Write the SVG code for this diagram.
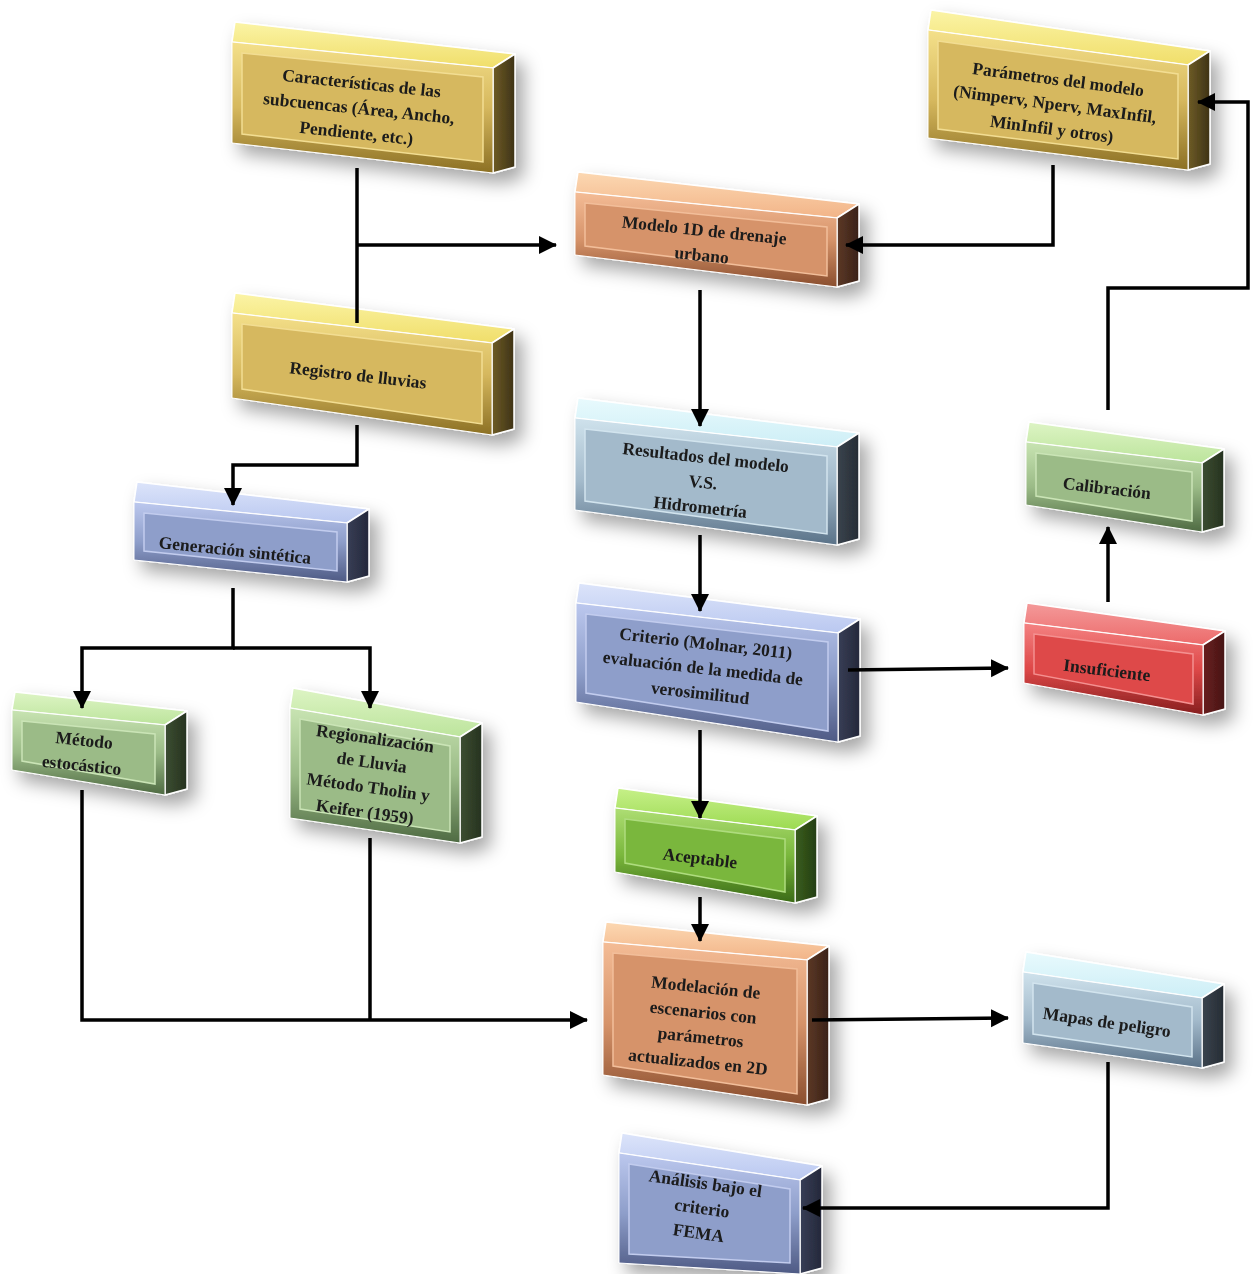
<svg xmlns="http://www.w3.org/2000/svg" width="1253" height="1274" viewBox="0 0 1253 1274">
<style>
.t{font-family:"Liberation Serif","DejaVu Serif",serif;font-weight:bold;font-size:17.5px;fill:#1a1a1a;text-anchor:middle}
.top,.side{stroke:#fff;stroke-width:1.5;stroke-linejoin:round}
.front{stroke:#fff;stroke-width:1}
.in{stroke-width:1.5}
.y .top{fill:url(#ty)} .y .front{fill:url(#fy)} .y .in{fill:#D6B85E;stroke:#F2DD92} .y .side{fill:url(#sy)}
.o .top{fill:url(#to)} .o .front{fill:url(#fo)} .o .in{fill:#D6936A;stroke:#F2BE9A} .o .side{fill:url(#so)}
.c .top{fill:url(#tc)} .c .front{fill:url(#fc)} .c .in{fill:#A3BACB;stroke:#D2E4EE} .c .side{fill:url(#sc)}
.b .top{fill:url(#tb)} .b .front{fill:url(#fb)} .b .in{fill:#8E9ECA;stroke:#C2CCEE} .b .side{fill:url(#sb)}
.g .top{fill:url(#tg)} .g .front{fill:url(#fg)} .g .in{fill:#9BBB87;stroke:#CAE4B6} .g .side{fill:url(#sg)}
.a .top{fill:url(#ta)} .a .front{fill:url(#fa)} .a .in{fill:#7AB73C;stroke:#AEDC7E} .a .side{fill:url(#sa)}
.r .top{fill:url(#tr)} .r .front{fill:url(#fr)} .r .in{fill:#DE4848;stroke:#F49090} .r .side{fill:url(#sr)}
.node{filter:url(#sh)}
.conn path{fill:none;stroke:#000;stroke-width:3.5}
.conn path.ar{marker-end:url(#arr)}
</style>
<defs>
<filter id="sh" x="-20%" y="-20%" width="150%" height="160%">
<feDropShadow dx="8" dy="10" stdDeviation="9" flood-color="#000" flood-opacity="0.35"/>
</filter>
<marker id="arr" markerUnits="userSpaceOnUse" markerWidth="20" markerHeight="20" refX="17" refY="9" orient="auto">
<path d="M0,0 L18,9 L0,18 z" fill="#000"/>
</marker>
<linearGradient id="ty" x1="0" y1="0" x2="0" y2="1"><stop offset="0" stop-color="#FBF4A6"/><stop offset="1" stop-color="#F0DE6A"/></linearGradient>
<linearGradient id="fy" x1="0" y1="0" x2="0" y2="1"><stop offset="0" stop-color="#F4E08A"/><stop offset="0.5" stop-color="#D6B85E"/><stop offset="1" stop-color="#8C7024"/></linearGradient>
<linearGradient id="sy" x1="0" y1="0" x2="1" y2="0"><stop offset="0" stop-color="#6E5C26"/><stop offset="1" stop-color="#3E3216"/></linearGradient>
<linearGradient id="to" x1="0" y1="0" x2="0" y2="1"><stop offset="0" stop-color="#FCD8B2"/><stop offset="1" stop-color="#F2B488"/></linearGradient>
<linearGradient id="fo" x1="0" y1="0" x2="0" y2="1"><stop offset="0" stop-color="#F4BC96"/><stop offset="0.5" stop-color="#D6936A"/><stop offset="1" stop-color="#8A4E2E"/></linearGradient>
<linearGradient id="so" x1="0" y1="0" x2="1" y2="0"><stop offset="0" stop-color="#5C3826"/><stop offset="1" stop-color="#3A2218"/></linearGradient>
<linearGradient id="tc" x1="0" y1="0" x2="0" y2="1"><stop offset="0" stop-color="#E8FAFD"/><stop offset="1" stop-color="#CDEEF6"/></linearGradient>
<linearGradient id="fc" x1="0" y1="0" x2="0" y2="1"><stop offset="0" stop-color="#CFE2EC"/><stop offset="0.5" stop-color="#A3BACB"/><stop offset="1" stop-color="#5A7288"/></linearGradient>
<linearGradient id="sc" x1="0" y1="0" x2="1" y2="0"><stop offset="0" stop-color="#3A444E"/><stop offset="1" stop-color="#262C34"/></linearGradient>
<linearGradient id="tb" x1="0" y1="0" x2="0" y2="1"><stop offset="0" stop-color="#DCE4FA"/><stop offset="1" stop-color="#BAC8F0"/></linearGradient>
<linearGradient id="fb" x1="0" y1="0" x2="0" y2="1"><stop offset="0" stop-color="#BCC8EE"/><stop offset="0.5" stop-color="#8E9ECA"/><stop offset="1" stop-color="#4E5A84"/></linearGradient>
<linearGradient id="sb" x1="0" y1="0" x2="1" y2="0"><stop offset="0" stop-color="#383E56"/><stop offset="1" stop-color="#24283A"/></linearGradient>
<linearGradient id="tg" x1="0" y1="0" x2="0" y2="1"><stop offset="0" stop-color="#DDF4C4"/><stop offset="1" stop-color="#BCE49C"/></linearGradient>
<linearGradient id="fg" x1="0" y1="0" x2="0" y2="1"><stop offset="0" stop-color="#C8E4B2"/><stop offset="0.5" stop-color="#9BBB87"/><stop offset="1" stop-color="#4E6A42"/></linearGradient>
<linearGradient id="sg" x1="0" y1="0" x2="1" y2="0"><stop offset="0" stop-color="#3C4E32"/><stop offset="1" stop-color="#26321F"/></linearGradient>
<linearGradient id="ta" x1="0" y1="0" x2="0" y2="1"><stop offset="0" stop-color="#C6F088"/><stop offset="1" stop-color="#9CDA52"/></linearGradient>
<linearGradient id="fa" x1="0" y1="0" x2="0" y2="1"><stop offset="0" stop-color="#AEDE74"/><stop offset="0.5" stop-color="#7AB73C"/><stop offset="1" stop-color="#3A6A16"/></linearGradient>
<linearGradient id="sa" x1="0" y1="0" x2="1" y2="0"><stop offset="0" stop-color="#3A5E1E"/><stop offset="1" stop-color="#243E12"/></linearGradient>
<linearGradient id="tr" x1="0" y1="0" x2="0" y2="1"><stop offset="0" stop-color="#F49A9A"/><stop offset="1" stop-color="#EC6A6A"/></linearGradient>
<linearGradient id="fr" x1="0" y1="0" x2="0" y2="1"><stop offset="0" stop-color="#F48282"/><stop offset="0.5" stop-color="#DE4848"/><stop offset="1" stop-color="#861E1E"/></linearGradient>
<linearGradient id="sr" x1="0" y1="0" x2="1" y2="0"><stop offset="0" stop-color="#6A2020"/><stop offset="1" stop-color="#461414"/></linearGradient>
</defs>
<rect width="1253" height="1274" fill="#fff"/>

<g id="n-caracteristicas" class="node y">
<polygon class="top" points="235,22 515,54 493,68 232,42"/>
<polygon class="side" points="493,68 515,54 515,167 493,173"/>
<polygon class="front" points="232,42 493,68 493,173 232,143"/>
<polygon class="in" points="242,53 483,77 483,162 242,134"/>
<g transform="translate(359,108) rotate(6)"><text class="t" y="-19">Características de las</text><text class="t" y="6">subcuencas (Área, Ancho,</text><text class="t" y="31">Pendiente, etc.)</text></g>
</g>

<g id="n-modelo1d" class="node o">
<polygon class="top" points="578,172 859,204 837,218 575,192"/>
<polygon class="side" points="837,218 859,204 859,281 837,287"/>
<polygon class="front" points="575,192 837,218 837,287 575,255"/>
<polygon class="in" points="585,203 827,227 827,276 585,246"/>
<g transform="translate(703,242) rotate(6)"><text class="t" y="-6">Modelo 1D de drenaje</text><text class="t" y="19">urbano</text></g>
</g>

<g id="n-registro" class="node y">
<polygon class="top" points="235,293 514,329 492,343 232,313"/>
<polygon class="side" points="492,343 514,329 514,429 492,435"/>
<polygon class="front" points="232,313 492,343 492,435 232,398"/>
<polygon class="in" points="242,324 482,352 482,424 242,389"/>
<g transform="translate(358,375) rotate(6.5)"><text class="t" y="6">Registro de lluvias</text></g>
</g>

<g id="n-generacion" class="node b">
<polygon class="top" points="137,482 369,509 347,523 134,502"/>
<polygon class="side" points="347,523 369,509 369,576 347,582"/>
<polygon class="front" points="134,502 347,523 347,582 134,560"/>
<polygon class="in" points="144,513 337,532 337,571 144,551"/>
<g transform="translate(235,550) rotate(6)"><text class="t" y="6">Generación sintética</text></g>
</g>

<g id="n-parametros" class="node y">
<polygon class="top" points="931,10 1210,51 1188,65 928,30"/>
<polygon class="side" points="1188,65 1210,51 1210,164 1188,170"/>
<polygon class="front" points="928,30 1188,65 1188,170 928,138"/>
<polygon class="in" points="938,41 1178,74 1178,159 938,129"/>
<g transform="translate(1055,104) rotate(7.5)"><text class="t" y="-19">Parámetros del modelo</text><text class="t" y="6">(Nimperv, Nperv, MaxInfil,</text><text class="t" y="31">MinInfil y otros)</text></g>
</g>

<g id="n-resultados" class="node c">
<polygon class="top" points="578,398 859,433 837,447 575,418"/>
<polygon class="side" points="837,447 859,433 859,539 837,545"/>
<polygon class="front" points="575,418 837,447 837,545 575,510"/>
<polygon class="in" points="585,429 827,456 827,534 585,501"/>
<g transform="translate(703,482) rotate(6.3)"><text class="t" y="-19">Resultados del modelo</text><text class="t" y="6">V.S.</text><text class="t" y="31">Hidrometría</text></g>
</g>

<g id="n-criterio" class="node b">
<polygon class="top" points="579,583 860,619 838,633 576,603"/>
<polygon class="side" points="838,633 860,619 860,736 838,742"/>
<polygon class="front" points="576,603 838,633 838,742 576,702"/>
<polygon class="in" points="586,614 828,642 828,731 586,693"/>
<g transform="translate(703,668) rotate(6.5)"><text class="t" y="-19">Criterio (Molnar, 2011)</text><text class="t" y="6">evaluación de la medida de</text><text class="t" y="31">verosimilitud</text></g>
</g>

<g id="n-aceptable" class="node a">
<polygon class="top" points="618,788 817,816 795,830 615,808"/>
<polygon class="side" points="795,830 817,816 817,897 795,903"/>
<polygon class="front" points="615,808 795,830 795,903 615,872"/>
<polygon class="in" points="625,819 785,839 785,892 625,863"/>
<g transform="translate(700,858) rotate(7)"><text class="t" y="6">Aceptable</text></g>
</g>

<g id="n-modelacion" class="node o">
<polygon class="top" points="606,922 829,946 807,960 603,942"/>
<polygon class="side" points="807,960 829,946 829,1099 807,1105"/>
<polygon class="front" points="603,942 807,960 807,1105 603,1075"/>
<polygon class="in" points="613,953 797,969 797,1094 613,1066"/>
<g transform="translate(702,1024) rotate(6)"><text class="t" y="-31">Modelación de</text><text class="t" y="-6">escenarios con</text><text class="t" y="19">parámetros</text><text class="t" y="44">actualizados en 2D</text></g>
</g>

<g id="n-mapas" class="node c">
<polygon class="top" points="1026,952 1224,984 1202,998 1023,972"/>
<polygon class="side" points="1202,998 1224,984 1224,1062 1202,1068"/>
<polygon class="front" points="1023,972 1202,998 1202,1068 1023,1043"/>
<polygon class="in" points="1033,983 1192,1007 1192,1057 1033,1034"/>
<g transform="translate(1107,1022) rotate(8.2)"><text class="t" y="6">Mapas de peligro</text></g>
</g>

<g id="n-analisis" class="node b">
<polygon class="top" points="622,1133 822,1166 800,1180 619,1153"/>
<polygon class="side" points="800,1180 822,1166 822,1268 800,1274"/>
<polygon class="front" points="619,1153 800,1180 800,1274 619,1263"/>
<polygon class="in" points="629,1164 790,1189 790,1263 629,1254"/>
<g transform="translate(702,1208) rotate(8)"><text class="t" y="-19">Análisis bajo el</text><text class="t" y="6">criterio</text><text class="t" y="31">FEMA</text></g>
</g>

<g id="n-metodo" class="node g">
<polygon class="top" points="15,692 187,711 165,725 12,710"/>
<polygon class="side" points="165,725 187,711 187,789 165,795"/>
<polygon class="front" points="12,710 165,725 165,795 12,770"/>
<polygon class="in" points="22,721 155,734 155,784 22,761"/>
<g transform="translate(83,752) rotate(6)"><text class="t" y="-6">Método</text><text class="t" y="19">estocástico</text></g>
</g>

<g id="n-regionalizacion" class="node g">
<polygon class="top" points="293,688 482,723 460,737 290,708"/>
<polygon class="side" points="460,737 482,723 482,837 460,843"/>
<polygon class="front" points="290,708 460,737 460,843 290,818"/>
<polygon class="in" points="300,719 450,746 450,832 300,809"/>
<g transform="translate(370,775) rotate(8)"><text class="t" y="-31">Regionalización</text><text class="t" y="-7">de Lluvia</text><text class="t" y="18">Método Tholin y</text><text class="t" y="43">Keifer (1959)</text></g>
</g>

<g id="n-calibracion" class="node g">
<polygon class="top" points="1029,422 1224,449 1202,463 1026,442"/>
<polygon class="side" points="1202,463 1224,449 1224,526 1202,532"/>
<polygon class="front" points="1026,442 1202,463 1202,532 1026,505"/>
<polygon class="in" points="1036,453 1192,472 1192,521 1036,496"/>
<g transform="translate(1107,488) rotate(6.8)"><text class="t" y="6">Calibración</text></g>
</g>

<g id="n-insuficiente" class="node r">
<polygon class="top" points="1027,603 1225,631 1203,645 1024,623"/>
<polygon class="side" points="1203,645 1225,631 1225,709 1203,715"/>
<polygon class="front" points="1024,623 1203,645 1203,715 1024,683"/>
<polygon class="in" points="1034,634 1193,654 1193,704 1034,674"/>
<g transform="translate(1107,670) rotate(7)"><text class="t" y="6">Insuficiente</text></g>
</g>

<g id="connectors" class="conn">
<path d="M357,168 V323"/>
<path class="ar" d="M357,245 H556"/>
<path class="ar" d="M1053,165 V245 H846"/>
<path class="ar" d="M700,290 V426"/>
<path class="ar" d="M700,535 V611"/>
<path class="ar" d="M848,670 L1008,668"/>
<path class="ar" d="M700,730 V818"/>
<path class="ar" d="M700,897 V941"/>
<path class="ar" d="M1108,602 V527"/>
<path class="ar" d="M1108,410 V288 H1248 V102 H1198"/>
<path class="ar" d="M357,425 V465 H233 V505"/>
<path class="ar" d="M233,588 V648 H82 V708"/>
<path class="ar" d="M233,648 H370 V708"/>
<path class="ar" d="M82,790 V1020 H587"/>
<path d="M370,838 V1020"/>
<path class="ar" d="M812,1020 L1008,1018"/>
<path class="ar" d="M1108,1062 V1208 H803"/>
</g>
</svg>
